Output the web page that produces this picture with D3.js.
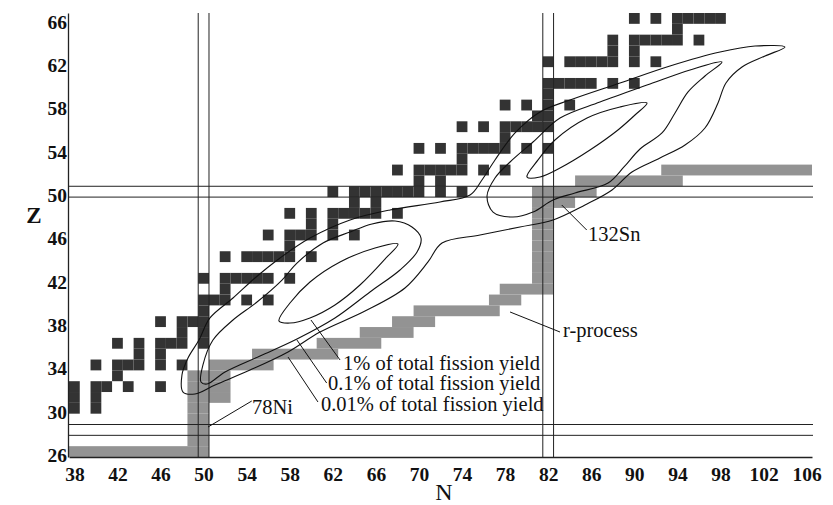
<!DOCTYPE html>
<html>
<head>
<meta charset="utf-8">
<script src="https://cdn.jsdelivr.net/npm/d3@7"></script>
<style>
  body { margin: 0; background: #fff; }
  svg { display: block; }
  text { font-family: "Liberation Serif", "Times New Roman", serif; }
</style>
</head>
<body>
<script>
// stable nuclei : [Z, neutron numbers]
const stableNuclei = [
  [30, [38, 40]],
  [31, [38, 40]],
  [32, [38, 40, 41, 43, 46]],
  [33, [42]],
  [34, [40, 42, 43, 44, 46, 48]],
  [35, [44, 46]],
  [36, [42, 44, 46, 47, 48, 50]],
  [37, [48, 50]],
  [38, [46, 48, 49, 50]],
  [39, [50]],
  [40, [50, 51, 52, 54, 56]],
  [41, [52]],
  [42, [50, 52, 53, 54, 55, 56, 58]],
  [44, [52, 54, 55, 56, 57, 58, 60]],
  [45, [58]],
  [46, [56, 58, 59, 60, 62, 64]],
  [47, [60, 62]],
  [48, [58, 60, 62, 63, 64, 65, 66, 68]],
  [49, [64, 66]],
  [50, [62, 64, 65, 66, 67, 68, 69, 70, 72, 74]],
  [51, [70, 72]],
  [52, [68, 70, 71, 72, 73, 74, 76, 78]],
  [53, [74]],
  [54, [70, 72, 74, 75, 76, 77, 78, 80, 82]],
  [55, [78]],
  [56, [74, 76, 78, 79, 80, 81, 82]],
  [57, [81, 82]],
  [58, [78, 80, 82, 84]],
  [59, [82]],
  [60, [82, 83, 84, 85, 86, 88, 90]],
  [62, [82, 84, 85, 86, 87, 88, 90, 92]],
  [63, [88, 90]],
  [64, [88, 90, 91, 92, 93, 94, 96]],
  [65, [94]],
  [66, [90, 92, 94, 95, 96, 97, 98]]
];

// r-process path : [Z, first N, last N]
const rProcessPath = [
  [26, 38, 50], [27, 49, 50], [28, 49, 50], [29, 49, 50], [30, 49, 50],
  [31, 49, 52], [32, 49, 52], [33, 49, 52], [34, 51, 56], [35, 55, 62],
  [36, 61, 66], [37, 65, 69], [38, 68, 71], [39, 70, 77], [40, 77, 79],
  [41, 78, 82], [42, 81, 82], [43, 81, 82], [44, 81, 82], [45, 81, 82],
  [46, 81, 82], [47, 81, 82], [48, 81, 82], [49, 81, 84], [50, 81, 86],
  [51, 85, 94], [52, 93, 106]
];

const magicN = [50, 82];
const magicZ = [28, 50];
const nTicks = [38, 42, 46, 50, 54, 58, 62, 66, 70, 74, 78, 82, 86, 90, 94, 98, 102, 106];
const zTicks = [26, 30, 34, 38, 42, 46, 50, 54, 58, 62, 66];

// fission yield contours, [N, Z] points
const yield001 = [
  [48.09, 31.50], [47.99, 33.07], [48.55, 34.64], [49.57, 36.30], [50.59, 38.34],
  [52.73, 40.18], [54.77, 42.03], [57.10, 43.88], [59.88, 45.72], [63.60, 47.39],
  [67.31, 48.31], [71.95, 49.05], [74.74, 49.69], [75.85, 51.08], [77.06, 52.93],
  [78.92, 55.42], [81.24, 57.36], [84.03, 58.47], [88.67, 60.04], [93.31, 61.61],
  [97.96, 62.90], [101.21, 63.45], [103.99, 63.36], [102.14, 62.53], [100.00, 61.51],
  [98.51, 60.04], [97.77, 58.19], [96.56, 55.88], [94.71, 54.31], [92.38, 53.11],
  [89.78, 51.82], [87.93, 50.16], [85.42, 48.77], [82.45, 47.39], [79.38, 46.74],
  [75.67, 46.00], [72.14, 45.26], [70.84, 43.51], [68.70, 41.11], [64.99, 38.98],
  [60.81, 37.04], [57.84, 35.20], [54.31, 33.53], [51.06, 32.15], [49.20, 31.32]
];
const yield01Light = [
  [49.76, 32.43], [49.94, 34.00], [50.87, 36.30], [52.73, 38.15], [54.96, 39.81],
  [57.28, 41.84], [58.67, 43.41], [61.09, 45.26], [63.60, 46.28], [65.64, 47.02],
  [67.78, 47.29], [69.35, 46.74], [70.19, 45.72], [69.82, 44.43], [68.24, 42.77],
  [65.45, 40.74], [62.20, 38.34], [58.67, 36.40], [55.24, 34.83], [51.99, 33.35],
  [50.32, 32.24]
];
const yield01Heavy = [
  [76.88, 48.12], [76.32, 49.60], [77.06, 51.26], [78.46, 52.74], [80.59, 54.59],
  [83.10, 56.80], [86.81, 58.28], [91.46, 59.94], [95.17, 61.24], [98.14, 61.98],
  [96.56, 60.68], [94.99, 59.21], [93.78, 57.27], [92.57, 55.42], [90.53, 53.94],
  [89.04, 52.28], [87.56, 50.80], [84.49, 49.88], [82.45, 49.23], [80.59, 48.12],
  [78.73, 47.66]
];
const yield1Light = [
  [57.00, 38.06], [58.02, 39.72], [59.88, 41.66], [62.67, 43.51], [65.92, 44.80],
  [68.05, 45.17], [66.94, 43.88], [64.52, 41.38], [62.20, 39.54], [59.88, 38.34],
  [58.02, 37.87]
];
const yield1Heavy = [
  [80.03, 51.36], [81.06, 52.93], [82.63, 54.77], [85.61, 56.80], [88.67, 57.82],
  [91.18, 58.19], [90.06, 57.08], [88.48, 55.70], [85.88, 53.85], [83.10, 52.19],
  [81.24, 51.36]
];

// labels : text position and leader line, all in [N, Z]
const annotations = [
  { label: '1% of total fission yield', at: [62.95, 33.53], line: [[62.67, 34.46], [59.97, 38.15]] },
  { label: '0.1% of total fission yield', at: [61.55, 31.69], line: [[61.43, 32.33], [58.67, 36.30]] },
  { label: '0.01% of total fission yield', at: [60.90, 29.75], line: [[60.62, 30.58], [57.84, 34.73]] },
  { label: '78Ni', at: [54.5, 29.47], line: [[54.47, 30.67], [50.41, 28.27]] },
  { label: '132Sn', at: [85.7, 45.45], line: [[85.58, 46.46], [83.26, 48.77]] },
  { label: 'r-process', at: [83.38, 36.58], line: [[83.10, 37.04], [78.46, 38.89]] }
];

const width = 833, height = 505;

const svg = d3.select('body')
  .append('svg')
  .attr('width', width)
  .attr('height', height);

const x = d3.scaleLinear().domain([37.5, 106.5]).range([69, 812]);
const y = d3.scaleLinear().domain([25.5, 66.5]).range([457, 13]);

// r-process band
svg.append('g')
  .selectAll('rect')
  .data(rProcessPath)
  .join('rect')
  .attr('x', d => x(d[1] - 0.5))
  .attr('y', d => y(d[0] + 0.5))
  .attr('width', d => x(d[2] + 0.5) - x(d[1] - 0.5))
  .attr('height', d => y(d[0] - 0.5) - y(d[0] + 0.5))
  .attr('fill', '#939393');

// stable nuclei
const stableCells = stableNuclei.flatMap(([z, ns]) => ns.map(n => ({ n, z })));
svg.append('g')
  .selectAll('rect')
  .data(stableCells)
  .join('rect')
  .attr('x', d => x(d.n - 0.5))
  .attr('y', d => y(d.z + 0.5))
  .attr('width', d => x(d.n + 0.5) - x(d.n - 0.5))
  .attr('height', d => y(d.z - 0.5) - y(d.z + 0.5))
  .attr('fill', '#333');

// magic number lines
const lines = svg.append('g').attr('stroke', '#222').attr('stroke-width', 1);
magicN.forEach(n => {
  [n - 0.5, n + 0.5].forEach(v => {
    lines.append('line')
      .attr('x1', x(v)).attr('x2', x(v))
      .attr('y1', y(66.5)).attr('y2', y(25.5));
  });
});
magicZ.forEach(z => {
  [z - 0.5, z + 0.5].forEach(v => {
    lines.append('line')
      .attr('x1', 68).attr('x2', x(106.5) + 1)
      .attr('y1', y(v)).attr('y2', y(v));
  });
});

// contours
const contour = d3.line()
  .x(d => x(d[0]))
  .y(d => y(d[1]))
  .curve(d3.curveCatmullRomClosed.alpha(0.5));

svg.append('g')
  .selectAll('path')
  .data([yield001, yield01Light, yield01Heavy, yield1Light, yield1Heavy])
  .join('path')
  .attr('d', contour)
  .attr('fill', 'none')
  .attr('stroke', '#111')
  .attr('stroke-width', 1.1);

// labels
const notes = svg.append('g');
notes.selectAll('line')
  .data(annotations)
  .join('line')
  .attr('x1', d => x(d.line[0][0]))
  .attr('y1', d => y(d.line[0][1]))
  .attr('x2', d => x(d.line[1][0]))
  .attr('y2', d => y(d.line[1][1]))
  .attr('stroke', '#111')
  .attr('stroke-width', 1);
notes.selectAll('text')
  .data(annotations)
  .join('text')
  .attr('x', d => x(d.at[0]))
  .attr('y', d => y(d.at[1]))
  .attr('font-size', 20.5)
  .attr('fill', '#111')
  .text(d => d.label);

// axes
const xAxis = svg.append('g')
  .attr('transform', 'translate(0,457)')
  .call(d3.axisBottom(x).tickValues(nTicks).tickSize(0).tickPadding(10).tickSizeOuter(0));
const yAxis = svg.append('g')
  .attr('transform', 'translate(68,0)')
  .call(d3.axisLeft(y).tickValues(zTicks).tickSize(0).tickPadding(1).tickSizeOuter(0));

[xAxis, yAxis].forEach(g => {
  g.select('.domain').attr('stroke', '#222').attr('stroke-width', 1.3);
  g.selectAll('text')
    .attr('font-family', '"Liberation Serif", serif')
    .attr('font-weight', 'bold')
    .attr('font-size', 19.5)
    .attr('fill', '#111');
});
yAxis.selectAll('text').attr('dy', '0.5em');

svg.append('text')
  .attr('x', 444)
  .attr('y', 500)
  .attr('text-anchor', 'middle')
  .attr('font-size', 24)
  .attr('fill', '#111')
  .text('N');

svg.append('text')
  .attr('x', 34)
  .attr('y', 223)
  .attr('text-anchor', 'middle')
  .attr('font-size', 23)
  .attr('font-weight', 'bold')
  .attr('fill', '#111')
  .text('Z');
</script>
</body>
</html>
